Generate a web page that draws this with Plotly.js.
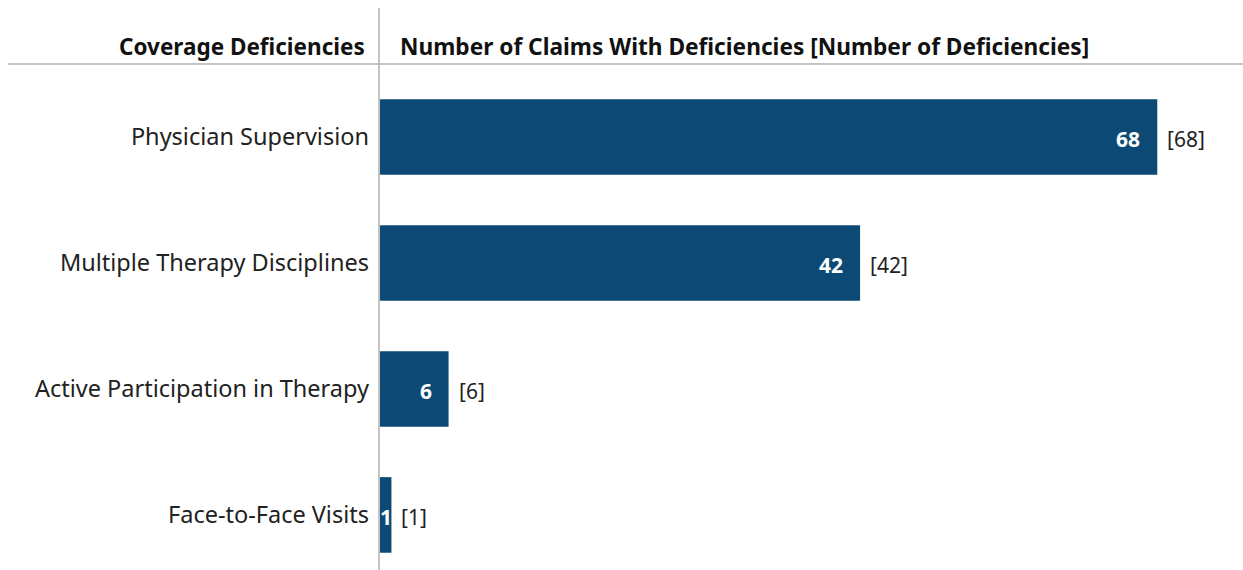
<!DOCTYPE html>
<html><head><meta charset="utf-8">
<script src="https://cdn.plot.ly/plotly-3.0.1.min.js"></script>
<style>html,body{margin:0;padding:0;background:#fff}</style>
</head><body><div id="chart" style="width:1243px;height:570px"></div>
<script>
const categories = ["Physician Supervision","Multiple Therapy Disciplines","Active Participation in Therapy","Face-to-Face Visits"];
const claims = [68, 42, 6, 1];
const deficiencies = [68, 42, 6, 1];
const headerLeft = "Coverage Deficiencies";
const headerRight = "Number of Claims With Deficiencies [Number of Deficiencies]";

const FONT = "Noto Sans, Open Sans, sans-serif";
const plotLeft = 380, plotW = 1243 - 380;
const px2paper = p => (p - plotLeft) / plotW;

const trace = {
  type: 'bar', orientation: 'h',
  y: categories, x: claims,
  width: 0.6,
  marker: {color: '#0c4a75'},
  hoverinfo: 'skip'
};

const annotations = [];
categories.forEach((c, i) => {
  const wide = claims[i] > 3;
  annotations.push({
    xref: 'x', yref: 'y', x: wide ? claims[i] : claims[i] / 2, y: c,
    text: '<b>' + claims[i] + '</b>', showarrow: false,
    xanchor: wide ? 'right' : 'center', xshift: wide ? -15 : 0, yshift: -2,
    font: {family: FONT, size: 21, color: '#ffffff'}
  });
  annotations.push({
    xref: 'x', yref: 'y', x: claims[i], y: c,
    text: '[' + deficiencies[i] + ']', showarrow: false,
    xanchor: 'left', xshift: 8, yshift: -2,
    font: {family: FONT, size: 21, color: '#222'}
  });
});
annotations.push({
  xref: 'paper', yref: 'paper', x: px2paper(367), y: 1 - 46/570,
  xanchor: 'right', yanchor: 'middle', showarrow: false,
  text: '<b>' + headerLeft + '</b>', font: {family: FONT, size: 22.5, color: '#111'}
});
annotations.push({
  xref: 'paper', yref: 'paper', x: px2paper(398), y: 1 - 46/570,
  xanchor: 'left', yanchor: 'middle', showarrow: false,
  text: '<b>' + headerRight + '</b>', font: {family: FONT, size: 22.7, color: '#111'}
});

const layout = {
  width: 1243, height: 570,
  margin: {l: plotLeft, r: 0, t: 0, b: 0},
  paper_bgcolor: '#fff', plot_bgcolor: '#fff',
  showlegend: false,
  xaxis: {range: [0, 75.5], showgrid: false, zeroline: false, showticklabels: false, ticks: ''},
  yaxis: {
    type: 'category', range: [3.437, -1.087], autorange: false,
    showgrid: false, zeroline: false, ticks: '', ticklabelstandoff: 10,
    tickfont: {family: FONT, size: 23.5, color: '#222'}
  },
  shapes: [
    {type: 'line', xref: 'paper', yref: 'paper', x0: px2paper(379), x1: px2paper(379), y0: 0, y1: 1 - 8/570,
     line: {color: '#b0b0b0', width: 1.5}, layer: 'above'},
    {type: 'line', xref: 'paper', yref: 'paper', x0: px2paper(8), x1: 1, y0: 1 - 64/570, y1: 1 - 64/570,
     line: {color: '#b0b0b0', width: 1.5}, layer: 'above'}
  ],
  annotations: annotations
};

Plotly.newPlot('chart', [trace], layout, {displayModeBar: false, staticPlot: true});
</script></body></html>
